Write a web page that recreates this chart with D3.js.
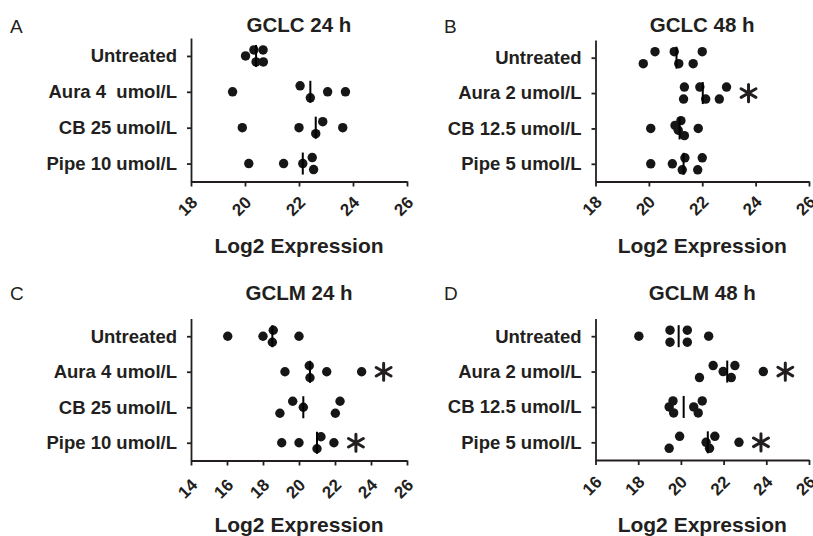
<!DOCTYPE html>
<html><head><meta charset="utf-8">
<script src="https://cdn.jsdelivr.net/npm/d3@7"></script>
<style>
body{margin:0;background:#fff}
svg text{font-family:"Liberation Sans",Arial,Helvetica,sans-serif;fill:#231f20}
</style>
</head><body>
<svg id="chart" width="813" height="536"></svg>
<script>
// ---------------- data ----------------
const panelLetters = ["A", "B", "C", "D"];
const panelTitles = ["GCLC 24 h", "GCLC 48 h", "GCLM 24 h", "GCLM 48 h"];
const axisTitle = "Log2 Expression";

const categoriesA = ["Untreated", "Aura 4  umol/L", "CB 25 umol/L", "Pipe 10 umol/L"];
const categoriesB = ["Untreated", "Aura 2 umol/L", "CB 12.5 umol/L", "Pipe 5 umol/L"];
const categoriesC = ["Untreated", "Aura 4 umol/L", "CB 25 umol/L", "Pipe 10 umol/L"];
const categoriesD = ["Untreated", "Aura 2 umol/L", "CB 12.5 umol/L", "Pipe 5 umol/L"];

const valuesA = [[20.02, 20.33, 20.41, 20.67, 20.68], [19.54, 22.04, 22.42, 23.06, 23.72], [19.90, 22.00, 22.62, 22.88, 23.62], [20.14, 21.43, 22.14, 22.49, 22.54]];
const valuesB = [[19.79, 20.23, 20.95, 21.12, 21.66, 22.00], [21.33, 21.30, 21.91, 22.13, 22.64, 22.91], [20.07, 20.98, 21.10, 21.20, 21.33, 21.85], [20.07, 20.88, 21.25, 21.35, 21.83, 22.00]];
const valuesC = [[16.04, 18.00, 18.52, 18.57, 20.00], [19.22, 20.57, 20.61, 21.54, 23.48], [18.94, 19.65, 20.24, 22.02, 22.28], [19.04, 20.00, 21.00, 21.22, 21.94]];
const valuesD = [[18.03, 19.49, 19.49, 20.30, 20.30, 21.30], [20.87, 21.51, 21.98, 22.36, 22.53, 23.86], [19.45, 19.63, 19.66, 20.60, 20.81, 21.00], [19.45, 19.94, 21.18, 21.34, 21.59, 22.72]];

// scatter lane of each point (-1 above, 0 centre, 1 below)
const lanesA = [[0, -1, 1, -1, 1], [0, -1, 1, 0, 0], [0, 0, 1, -1, 0], [0, 0, 0, -1, 1]];
const lanesB = [[1, -1, -1, 1, 1, -1], [-1, 1, -1, 1, 1, -1], [0, -0.5, 0.3, -1.3, 1.2, 0], [0, 0, 1, -1, 1, -1]];
const lanesC = [[0, 0, 1, -1, 0], [0, -1, 1, 0, 0], [1, -1, 0, 1, -1], [0, 0, 1, -1, 0]];
const lanesD = [[0, -1, 1, -1, 1, 0], [1, -1, 0, 1, -1, 0], [0, -1, 1, 0, 1, -1], [1, -1, 0, 1, -1, 0]];

const significantA = [false, false, false, false];
const significantB = [false, true, false, false];
const significantC = [false, true, false, true];
const significantD = [false, true, false, true];

const xTicksA = [18, 20, 22, 24, 26];
const xTicksB = [18, 20, 22, 24, 26];
const xTicksC = [14, 16, 18, 20, 22, 24, 26];
const xTicksD = [16, 18, 20, 22, 24, 26];

// ---------------- layout ----------------
const layout = [
  {left: 191, right: 407, top: 38, bottom: 181.5, titleY: 31.7, letterX: 10, letterY: 33.3, tickLab: 24.5},
  {left: 595.5, right: 809, top: 40, bottom: 181.5, titleY: 32.3, letterX: 444, letterY: 33.3, tickLab: 24},
  {left: 191, right: 407, top: 318.5, bottom: 460.5, titleY: 299.7, letterX: 10, letterY: 299.7, tickLab: 28},
  {left: 595.5, right: 809, top: 318.5, bottom: 460, titleY: 300.3, letterX: 444, letterY: 300.3, tickLab: 25.5}
];

const panels = [
  {cats: categoriesA, vals: valuesA, lanes: lanesA, sig: significantA, ticks: xTicksA},
  {cats: categoriesB, vals: valuesB, lanes: lanesB, sig: significantB, ticks: xTicksB},
  {cats: categoriesC, vals: valuesC, lanes: lanesC, sig: significantC, ticks: xTicksC},
  {cats: categoriesD, vals: valuesD, lanes: lanesD, sig: significantD, ticks: xTicksD}
];

const ink = "#231f20";
const svg = d3.select("#chart");
const laneScale = d3.scaleLinear().domain([-1, 1]).range([-6, 6]);

panels.forEach((p, i) => {
  const L = layout[i];
  const g = svg.append("g");
  const x = d3.scaleLinear().domain(d3.extent(p.ticks)).range([L.left, L.right]);
  const y = d3.scalePoint().domain(p.cats).range([L.top, L.bottom]).padding(0.5);

  // x axis
  const gx = g.append("g").attr("transform", `translate(0,${L.bottom})`)
    .call(d3.axisBottom(x).tickValues(p.ticks).tickSize(5).tickSizeOuter(0).tickFormat(d3.format("d")));
  gx.select(".domain").attr("stroke", ink).attr("stroke-width", 1.8);
  gx.selectAll(".tick line").attr("stroke", ink).attr("stroke-width", 1.8);
  gx.selectAll(".tick text")
    .attr("x", -4).attr("y", L.tickLab).attr("dy", "0.35em")
    .attr("text-anchor", "middle")
    .attr("transform", `rotate(-45,-4,${L.tickLab})`)
    .style("font-size", "17px").style("font-weight", "bold").attr("fill", ink);

  // y axis
  const gy = g.append("g").attr("transform", `translate(${L.left},0)`)
    .call(d3.axisLeft(y).tickSize(4).tickSizeOuter(0).tickPadding(10));
  gy.select(".domain").attr("stroke", ink).attr("stroke-width", 1.8);
  gy.selectAll(".tick line").attr("stroke", ink).attr("stroke-width", 1.8);
  gy.selectAll(".tick text")
    .style("font-size", "18.5px").style("font-weight", "bold").style("white-space", "pre")
    .attr("fill", ink);

  // points
  p.cats.forEach((c, ci) => {
    const vals = p.vals[ci];
    const cy = y(c);
    g.append("g").selectAll("circle").data(vals).join("circle")
      .attr("cx", d => x(d))
      .attr("cy", (d, k) => cy + laneScale(p.lanes[ci][k]))
      .attr("r", 4.7)
      .attr("fill", "#161616");
    // median line
    const med = d3.median(vals);
    g.append("line")
      .attr("x1", x(med)).attr("x2", x(med))
      .attr("y1", cy - 11).attr("y2", cy + 11)
      .attr("stroke", "#000").attr("stroke-width", 2);
    // significance asterisk
    if (p.sig[ci]) {
      const ax = x(d3.max(vals)) + 22;
      const r = 8.6;
      const path = d3.path();
      for (let a = 0; a < 3; a++) {
        const ang = Math.PI / 2 + a * Math.PI / 3;
        path.moveTo(ax + r * Math.cos(ang), cy + r * Math.sin(ang));
        path.lineTo(ax - r * Math.cos(ang), cy - r * Math.sin(ang));
      }
      g.append("path").attr("d", path.toString())
        .attr("stroke", ink).attr("stroke-width", 3).attr("stroke-linecap", "round").attr("fill", "none");
    }
  });

  // title
  g.append("text").attr("x", (L.left + L.right) / 2).attr("y", L.titleY)
    .attr("text-anchor", "middle").style("font-size", "20.5px").style("font-weight", "bold")
    .text(panelTitles[i]);
  // panel letter
  g.append("text").attr("x", L.letterX).attr("y", L.letterY)
    .style("font-size", "19px").text(panelLetters[i]);
  // x axis title
  g.append("text").attr("x", (L.left + L.right) / 2).attr("y", L.bottom + 71.5)
    .attr("text-anchor", "middle").style("font-size", "21px").style("font-weight", "bold")
    .text(axisTitle);
});
</script>
</body></html>
